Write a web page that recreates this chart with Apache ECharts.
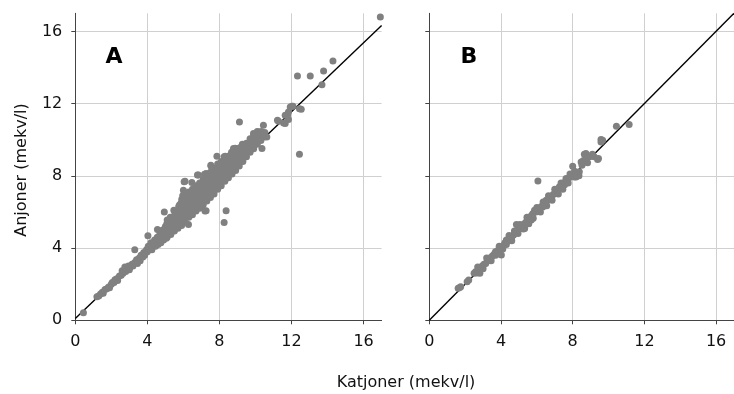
<!DOCTYPE html>
<html><head><meta charset="utf-8">
<script src="https://cdn.jsdelivr.net/npm/echarts@6/dist/echarts.min.js"></script>
<style>html,body{margin:0;padding:0;background:#fff}#c{width:734px;height:394px}</style>
</head><body><div id="c"></div>
<script>
const tickValues = [0, 4, 8, 12, 16];
const panelLabels = ['A', 'B'];
const xTitle = 'Katjoner (mekv/l)';
const yTitle = 'Anjoner (mekv/l)';
const fitLineA = [[0, 0.1], [17, 16.33]];
const fitLineB = [[0, 0], [17, 17]];

const panelA = [
[0.45,0.42],
[1.2,1.3],[1.3,1.35],[1.4,1.45],[1.5,1.55],[1.55,1.5],[1.65,1.7],[1.75,1.75],[1.85,1.85],[1.9,1.8],[2.0,2.0],[2.05,2.1],[2.15,2.1],[2.2,2.25],[2.3,2.3],[2.35,2.2],[2.45,2.45],[2.55,2.5],[2.6,2.75],[2.65,2.6],[2.75,2.95],[2.8,2.7],[2.85,2.85],[2.95,3.0],[3.0,2.8],[3.05,2.95],[3.15,3.1],[3.2,3.0],[3.3,3.2],[3.3,3.9],[3.4,3.35],[3.45,3.15],[3.55,3.45],[3.6,3.3],[3.65,3.6],[3.75,3.5],[3.8,3.75],[3.85,3.6],[3.95,3.9],[4.03,4.68],[4.0,3.8],[4.05,4.1],[4.15,4.0],[4.2,4.3],[4.25,3.9],[4.3,4.15],[4.4,4.45],[4.45,4.1],[4.5,4.3],[4.56,5.03],[4.55,4.6],[4.6,4.2],[4.65,4.45],[4.7,4.8],[4.75,4.3],[4.8,4.6],[4.85,5.0],[4.9,4.45],[4.94,6.0],[4.95,4.75],[5.0,5.2],[5.05,4.55],
[5.1,4.6],[5.1,4.85],[5.12,5.1],[5.08,5.35],[5.1,5.55],
[5.3,4.75],[5.28,5.0],[5.32,5.2],[5.3,5.45],[5.27,5.7],
[5.5,4.95],[5.52,5.2],[5.48,5.4],[5.5,5.65],[5.53,5.9],[5.47,6.1],
[5.7,5.1],[5.68,5.35],[5.72,5.55],[5.7,5.8],[5.66,6.05],[5.74,6.3],
[5.9,5.25],[5.92,5.5],[5.88,5.75],[5.9,6.0],[5.93,6.25],[5.87,6.5],[5.91,6.7],
[6.1,5.45],[6.08,5.7],[6.12,5.95],[6.1,6.2],[6.14,6.45],[6.07,6.7],[6.11,6.95],
[6.3,5.7],[6.32,5.9],[6.28,6.15],[6.3,6.4],[6.33,6.65],[6.27,6.9],[6.3,7.1],
[6.5,5.85],[6.48,6.1],[6.52,6.35],[6.5,6.6],[6.47,6.85],[6.53,7.1],[6.5,7.25],
[6.7,6.05],[6.72,6.3],[6.68,6.55],[6.7,6.8],[6.73,7.05],[6.67,7.3],[6.7,7.45],
[6.9,6.2],[6.88,6.45],[6.92,6.7],[6.9,6.95],[6.87,7.2],[6.93,7.45],[6.9,7.6],
[7.1,6.4],[7.12,6.6],[7.08,6.85],[7.1,7.1],[7.13,7.35],[7.07,7.6],[7.1,7.8],
[7.3,6.6],[7.28,6.8],[7.32,7.05],[7.3,7.3],[7.27,7.55],[7.33,7.8],[7.3,8.0],
[7.5,6.8],[7.52,7.0],[7.48,7.25],[7.5,7.5],[7.53,7.75],[7.47,8.0],[7.5,8.2],
[7.7,7.0],[7.68,7.2],[7.72,7.45],[7.7,7.7],[7.67,7.95],[7.73,8.2],[7.7,8.4],
[7.9,7.25],[7.92,7.45],[7.88,7.7],[7.9,7.95],[7.93,8.2],[7.87,8.45],[7.9,8.65],
[8.1,7.45],[8.08,7.7],[8.12,7.95],[8.1,8.2],[8.07,8.45],[8.13,8.65],[8.1,8.8],
[8.3,7.7],[8.32,7.95],[8.28,8.2],[8.3,8.45],[8.33,8.7],[8.27,8.95],
[8.5,7.9],[8.48,8.15],[8.52,8.4],[8.5,8.65],[8.47,8.9],[8.53,9.1],
[8.7,8.1],[8.72,8.35],[8.68,8.6],[8.7,8.85],[8.73,9.1],[8.67,9.3],
[8.9,8.3],[8.88,8.55],[8.92,8.8],[8.9,9.05],[8.87,9.3],[8.93,9.5],
[9.1,8.55],[9.12,8.8],[9.08,9.05],[9.1,9.3],[9.13,9.55],
[9.3,8.8],[9.28,9.05],[9.32,9.3],[9.3,9.55],[9.27,9.75],
[9.5,9.05],[9.52,9.3],[9.48,9.55],[9.5,9.8],
[9.7,9.3],[9.68,9.55],[9.72,9.8],[9.7,10.05],
[9.9,9.5],[9.92,9.75],[9.88,10.0],[9.9,10.25],
[10.1,9.75],[10.08,10.0],[10.12,10.25],[10.1,10.45],
[10.3,9.95],[10.28,10.2],[10.32,10.45],
[10.5,10.15],[10.52,10.4],
[10.44,10.8],[10.63,10.15],[10.36,9.51],[10.17,10.43],[9.89,10.34],[9.11,10.98],[8.87,9.53],[8.78,9.51],[7.86,9.09],[8.26,9.05],[8.32,9.09],[7.52,8.59],[7.54,8.53],[6.78,8.04],[6.83,8.04],[7.17,8.09],[7.26,8.13],[6.09,7.7],[6.47,7.63],[6.04,7.67],[6.0,7.2],[5.96,6.89],[5.78,6.38],[7.2,6.05],[7.26,6.06],[8.37,6.06],[8.26,5.42],[6.28,5.31],
[11.22,11.08],[11.28,11.02],[11.56,10.93],[11.65,10.9],[11.65,11.36],[11.78,11.36],[11.83,11.12],[11.83,11.54],[11.93,11.81],[12.02,11.85],[12.08,11.85],[12.44,11.72],[12.54,11.69],[12.44,9.2],
[12.33,13.53],[13.04,13.53],[13.69,13.05],[13.78,13.8],[14.3,14.36],[16.93,16.8]
];

const panelB = [
[1.61,1.77],[1.7,1.82],[1.75,1.86],[2.11,2.13],[2.2,2.23],[2.5,2.6],[2.58,2.69],[2.65,2.62],[2.82,2.6],[2.8,2.75],[2.91,2.88],[2.95,3.0],[3.05,3.1],[3.15,3.15],[3.25,3.3],[3.32,3.43],[3.4,3.4],[3.5,3.55],[3.6,3.65],[3.69,3.79],[3.8,3.85],[3.93,3.94],[4.02,3.62],[4.05,4.05],[4.15,4.16],[4.22,4.3],[4.3,4.44],[4.38,4.4],[4.45,4.5],[4.52,4.53],[4.6,4.6],[4.7,4.72],[4.8,4.85],[4.86,5.31],[4.91,4.99],[5.0,5.05],[5.1,5.12],[5.13,5.27],[5.2,5.22],[5.32,5.09],[5.3,5.35],[5.4,5.45],[5.5,5.5],[5.6,5.62],[5.69,5.55],[5.7,5.8],[5.78,5.92],[5.87,6.1],[5.95,6.0],[6.06,7.72],[6.05,6.1],[6.15,6.2],[6.25,6.3],[6.33,6.28],[6.4,6.45],[6.52,6.65],[6.5,6.5],[6.6,6.65],[6.7,6.75],[6.8,6.85],[6.9,6.95],[7.0,7.05],[7.08,7.02],[7.15,7.2],[7.26,7.39],[7.3,7.3],[7.4,7.45],[7.5,7.6],[7.55,7.5],[7.63,7.76],[7.63,7.85],[7.7,7.8],[7.8,7.9],[7.9,8.0],[8.0,8.53],[8.09,7.94],[8.0,8.05],[8.19,7.94],[8.2,8.2],[8.28,8.13],[8.37,8.22],[8.47,8.77],[8.52,8.59],[8.65,9.2],[8.74,9.24],[8.83,8.72],[8.93,9.05],[9.0,9.1],[9.2,9.05],[9.39,8.9],[9.44,8.96],[9.58,9.88],[9.58,10.01],[9.67,9.97],[10.44,10.75],[11.15,10.84],
[2.7,2.95],[3.0,2.85],[3.2,3.45],[3.45,3.3],[3.7,3.6],[3.9,4.1],[4.1,3.95],[4.3,4.2],[4.45,4.7],[4.6,4.4],[4.75,4.95],[4.95,4.8],[5.05,5.3],[5.25,5.05],[5.45,5.7],[5.55,5.35],[5.8,5.65],[6.0,6.25],[6.2,6.0],[6.35,6.55],[6.55,6.35],[6.65,6.9],[6.85,6.65],[7.0,7.25],[7.2,7.0],[7.35,7.6],[7.45,7.25],[7.75,7.6],[7.85,8.1],[8.1,8.25],[8.35,8.0],[8.6,8.85],[8.8,9.0],[9.1,9.2]
];

const FONT = '"DejaVu Sans", "Liberation Sans", Arial, sans-serif';
const AXC = '#444';

function xAx(gi) {
  return {
    type: 'value', gridIndex: gi, min: 0, max: 17,
    axisLine: { show: true, onZero: false, lineStyle: { color: AXC, width: 1 } },
    axisTick: { show: true, length: 4, customValues: tickValues, lineStyle: { color: AXC } },
    axisLabel: { customValues: tickValues, fontSize: 16, color: '#111', margin: 14, fontFamily: FONT },
    splitLine: { show: true, lineStyle: { color: '#d0d0d0', width: 1 } }
  };
}
function yAx(gi, showLabels) {
  return {
    type: 'value', gridIndex: gi, min: 0, max: 17,
    axisLine: { show: true, onZero: false, lineStyle: { color: AXC, width: 1 } },
    axisTick: { show: true, length: 4, customValues: tickValues, lineStyle: { color: AXC } },
    axisLabel: { show: showLabels, customValues: tickValues, fontSize: 16, color: '#111', margin: 13, fontFamily: FONT },
    splitLine: { show: true, lineStyle: { color: '#d0d0d0', width: 1 } }
  };
}

const chart = echarts.init(document.getElementById('c'), null, { renderer: 'canvas' });
chart.setOption({
  animation: false,
  backgroundColor: '#fff',
  grid: [
    { left: 75.3, top: 13.3, width: 306.3, height: 307, containLabel: false },
    { left: 429.3, top: 13.3, width: 306, height: 307, containLabel: false }
  ],
  xAxis: [xAx(0), xAx(1)],
  yAxis: [yAx(0, true), yAx(1, false)],
  graphic: [
    { type: 'text', style: { text: panelLabels[0], x: 114, y: 57.5, textAlign: 'center', textVerticalAlign: 'middle', font: 'bold 22px ' + FONT, fill: '#000' } },
    { type: 'text', style: { text: panelLabels[1], x: 469, y: 57.5, textAlign: 'center', textVerticalAlign: 'middle', font: 'bold 22px ' + FONT, fill: '#000' } },
    { type: 'text', style: { text: xTitle, x: 406, y: 383, textAlign: 'center', textVerticalAlign: 'middle', font: '16px ' + FONT, fill: '#111' } },
    { type: 'text', x: 22, y: 170, rotation: Math.PI / 2, style: { text: yTitle, x: 0, y: 0, textAlign: 'center', textVerticalAlign: 'middle', font: '16px ' + FONT, fill: '#111' } }
  ],
  series: [
    { type: 'line', xAxisIndex: 0, yAxisIndex: 0, data: fitLineA, showSymbol: false, symbol: 'none', lineStyle: { color: '#000', width: 1.4 }, z: 1, silent: true },
    { type: 'scatter', xAxisIndex: 0, yAxisIndex: 0, data: panelA, symbolSize: 7, itemStyle: { color: '#808080', opacity: 1 }, z: 2 },
    { type: 'line', xAxisIndex: 1, yAxisIndex: 1, data: fitLineB, showSymbol: false, symbol: 'none', lineStyle: { color: '#000', width: 1.4 }, z: 1, silent: true },
    { type: 'scatter', xAxisIndex: 1, yAxisIndex: 1, data: panelB, symbolSize: 7, itemStyle: { color: '#808080', opacity: 1 }, z: 2 }
  ]
});
</script>
</body></html>
